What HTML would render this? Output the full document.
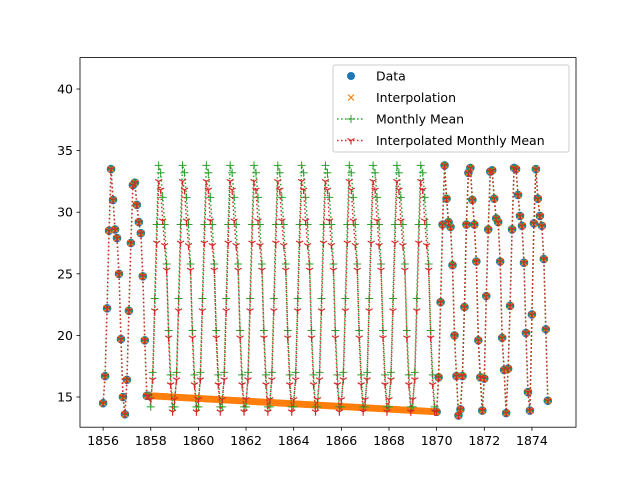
<!DOCTYPE html>
<html><head><meta charset="utf-8"><style>
body{margin:0;background:#fff}
svg text{font-family:"DejaVu Sans","Liberation Sans",sans-serif;font-size:12.5px;fill:#000}
</style></head><body>
<svg id="chart" width="640" height="480" xmlns="http://www.w3.org/2000/svg">
<rect width="640" height="480" fill="#fff"/>
<g id="plot"></g>
<g id="axes"></g>
</svg>
<script>
const years = [1856,1857,1870,1871,1872,1873,1874];
const dataValues = [
 [14.5,16.7,22.2,28.5,33.5,31.0,28.6,27.9,25.0,19.7,15.0,13.6],
 [16.4,22.0,27.5,32.2,32.4,30.6,29.2,28.3,24.8,19.6,15.1,15.1],
 [13.8,16.6,22.7,29.0,33.8,31.1,29.2,28.8,25.7,20.0,16.7,13.5],
 [14.0,16.7,22.3,29.0,33.2,33.6,31.0,29.0,26.0,19.6,16.6,13.9],
 [16.5,23.2,28.6,33.3,33.4,31.1,29.5,29.2,26.0,19.8,17.2,13.7],
 [17.3,22.4,28.6,33.6,33.5,31.4,29.7,28.9,25.9,20.2,15.4,13.9],
 [21.7,29.1,33.5,31.1,29.7,28.9,26.2,20.5,14.7,14.7,14.7,14.7]
];
const gapStart = 1858, gapEnd = 1870;
const monthlyMean = [14.2,17.0,23.0,29.0,33.8,33.2,31.2,29.0,25.8,20.4,16.8,14.2];
const interpMonthlyMean = [14.8,16.4,22.0,27.5,32.5,31.8,29.3,27.3,25.3,19.8,16.0,13.8];
const interpEnds = [15.1,13.8];
const xTicks = [1856,1858,1860,1862,1864,1866,1868,1870,1872,1874];
const yTicks = [15,20,25,30,35,40];
const legendLabels = ["Data","Interpolation","Monthly Mean","Interpolated Monthly Mean"];

const X0=80,X1=576,Y0=57.6,Y1=427.2,xmin=1855.03,xmax=1875.85,ymin=12.55,ymax=42.55;
const sx=v=>X0+(v-xmin)/(xmax-xmin)*(X1-X0);
const sy=v=>Y1-(v-ymin)/(ymax-ymin)*(Y1-Y0);
const NS="http://www.w3.org/2000/svg";
const plot=document.getElementById('plot'), axes=document.getElementById('axes');
function mk(tag,attrs,parent){const e=document.createElementNS(NS,tag);for(const k in attrs)e.setAttribute(k,attrs[k]);parent.appendChild(e);return e;}

const data=[];
years.forEach((y,i)=>{const n=(y===1874)?9:12;for(let m=0;m<n;m++)data.push([y+m/12,dataValues[i][m]]);});
const green=[],red=[];
data.forEach(p=>{if(p[0]<gapStart){green.push(p);red.push(p);}});
for(let y=gapStart;y<gapEnd;y++)for(let m=0;m<12;m++){green.push([y+m/12,monthlyMean[m]]);red.push([y+m/12,interpMonthlyMean[m]]);}
data.forEach(p=>{if(p[0]>=gapEnd){green.push(p);red.push(p);}});
const orange=data.slice();
for(let t=gapStart;t<=gapEnd;t+=0.02)orange.push([t,interpEnds[0]+(interpEnds[1]-interpEnds[0])*(t-gapStart)/(gapEnd-gapStart)]);

const gD=mk('g',{},plot);

data.forEach(p=>{const c=mk('circle',{cx:sx(p[0]),cy:sy(p[1]),r:4.3,fill:'#1f77b4'},gD);
});
const gO=mk('g',{stroke:'#ff7f0e','stroke-width':1.2},plot);

orange.forEach(p=>{const x=sx(p[0]),y=sy(p[1]);mk('path',{d:`M${x-3},${y-3}L${x+3},${y+3}M${x-3},${y+3}L${x+3},${y-3}`},gO);});
function lineSeries(pts,color,name,marker){
 const g=mk('g',{},plot);
 mk('polyline',{points:pts.map(p=>sx(p[0])+','+sy(p[1])).join(' '),fill:'none',stroke:color,'stroke-width':1.5,'stroke-dasharray':'1.5,2.5'},g);
 pts.forEach(p=>marker(sx(p[0]),sy(p[1]),g,color));
}
const plus=(x,y,g,c)=>mk('path',{d:`M${x-4},${y}H${x+4}M${x},${y-4}V${y+4}`,stroke:c,'stroke-width':1},g);
const tri=(x,y,g,c)=>mk('path',{d:`M${x},${y}V${y+4}M${x},${y}L${x-3.5},${y-2}M${x},${y}L${x+3.5},${y-2}`,stroke:c,'stroke-width':1.2,fill:'none'},g);
lineSeries(green,'#2ca02c','monthly-mean-series',plus);
lineSeries(red,'#d62728','interpolated-monthly-mean-series',tri);

const frame=mk('rect',{x:X0,y:Y0,width:X1-X0,height:Y1-Y0,fill:'none',stroke:'#000','stroke-width':0.8},axes);

xTicks.forEach(t=>{const x=sx(t);mk('line',{x1:x,x2:x,y1:Y1,y2:Y1+3.5,stroke:'#000','stroke-width':0.8},axes);
 const tx=mk('text',{x:x,y:Y1+18,'text-anchor':'middle'},axes);tx.textContent=t;
 });
yTicks.forEach(t=>{const y=sy(t);mk('line',{x1:X0-3.5,x2:X0,y1:y,y2:y,stroke:'#000','stroke-width':0.8},axes);
 const tx=mk('text',{x:X0-7,y:y+4.5,'text-anchor':'end'},axes);tx.textContent=t;
 });

const lg=mk('g',{},axes);
mk('rect',{x:333,y:65,width:236,height:87,rx:2,fill:'#fff','fill-opacity':0.8,stroke:'#ccc'},lg);
legendLabels.forEach((l,i)=>{const y=76+i*21.5;
 if(i===0)mk('circle',{cx:351,cy:y,r:4,fill:'#1f77b4'},lg);
 if(i===1)mk('path',{d:`M348,${y-3}L354,${y+3}M348,${y+3}L354,${y-3}`,stroke:'#ff7f0e','stroke-width':1.2},lg);
 if(i===2){mk('line',{x1:337,x2:365,y1:y,y2:y,stroke:'#2ca02c','stroke-width':1.5,'stroke-dasharray':'1.5,2.5'},lg);plus(351,y,lg,'#2ca02c');}
 if(i===3){mk('line',{x1:337,x2:365,y1:y,y2:y,stroke:'#d62728','stroke-width':1.5,'stroke-dasharray':'1.5,2.5'},lg);tri(351,y,lg,'#d62728');}
 const t=mk('text',{x:376,y:y+4.5},lg);t.textContent=l;
 });
</script>
</body></html>
